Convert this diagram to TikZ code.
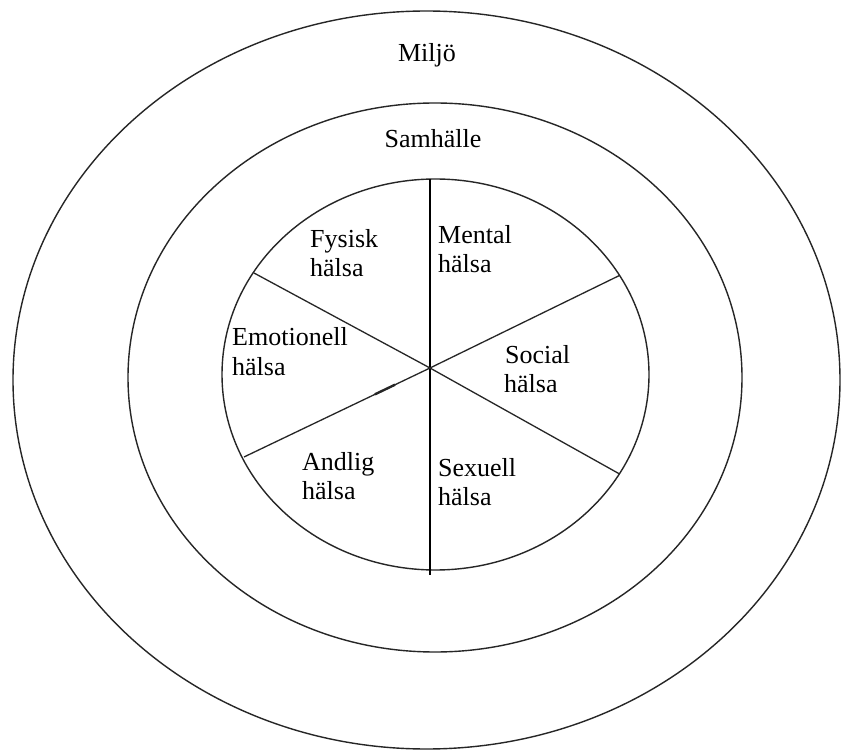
\documentclass[tikz,border=0pt]{standalone}
\usepackage{fontspec}
\setmainfont{Liberation Serif}
\begin{document}
\begin{tikzpicture}[x=1pt,y=-1pt,
  ring/.style={line width=1.4pt,black!85},
  spoke/.style={line width=1.3pt,black!85},
  axis/.style={line width=1.9pt,black},
  lbl/.style={inner sep=0pt,anchor=base west,font=\fontsize{26}{30}\selectfont},
  ttl/.style={inner sep=0pt,anchor=base,font=\fontsize{26}{30}\selectfont}]
\useasboundingbox[fill=white] (0,0) rectangle (841,751);
% rings
\coordinate (co) at (426.5,380);
\coordinate (cm) at (435,377.5);
\coordinate (ci) at (435.5,374.5);
\draw[ring] (co) ellipse [x radius=413.5pt, y radius=369pt];
\draw[ring] (cm) ellipse [x radius=307pt, y radius=274.5pt];
\draw[ring] (ci) ellipse [x radius=213.5pt, y radius=195.5pt];
% spokes
\coordinate (c) at (430,368);
\coordinate (top) at (430,179);
\coordinate (bot) at (430,575);
\coordinate (ul) at (254,273);
\coordinate (ur) at (619.6,275.4);
\coordinate (ll) at (244,457);
\coordinate (lr) at (619.6,474);
\coordinate (m1) at (395,384.7);
\coordinate (m2) at (375,394.3);
\draw[axis] (top) -- (bot);
\draw[spoke] (ul) -- (c) -- (lr);
\draw[spoke] (ur) -- (c) -- (ll);
\draw[line width=2.4pt,black!85] (m1) -- (m2);
% titles
\node[ttl] (miljo) at (427,62) {Miljö};
\node[ttl] (samh) at (433,148) {Samhälle};
% sector labels
\node[lbl] (fys1) at (310,248) {Fysisk};
\node[lbl] (fys2) at (310,277) {hälsa};
\node[lbl] (men1) at (438,244) {Mental};
\node[lbl] (men2) at (438,273) {hälsa};
\node[lbl] (emo1) at (232,346) {Emotionell};
\node[lbl] (emo2) at (232,375) {hälsa};
\node[lbl] (soc1) at (505,363) {Social};
\node[lbl] (soc2) at (504,392) {hälsa};
\node[lbl] (and1) at (302,470) {Andlig};
\node[lbl] (and2) at (302,499) {hälsa};
\node[lbl] (sex1) at (438,476) {Sexuell};
\node[lbl] (sex2) at (438,505) {hälsa};
\end{tikzpicture}
\end{document}
